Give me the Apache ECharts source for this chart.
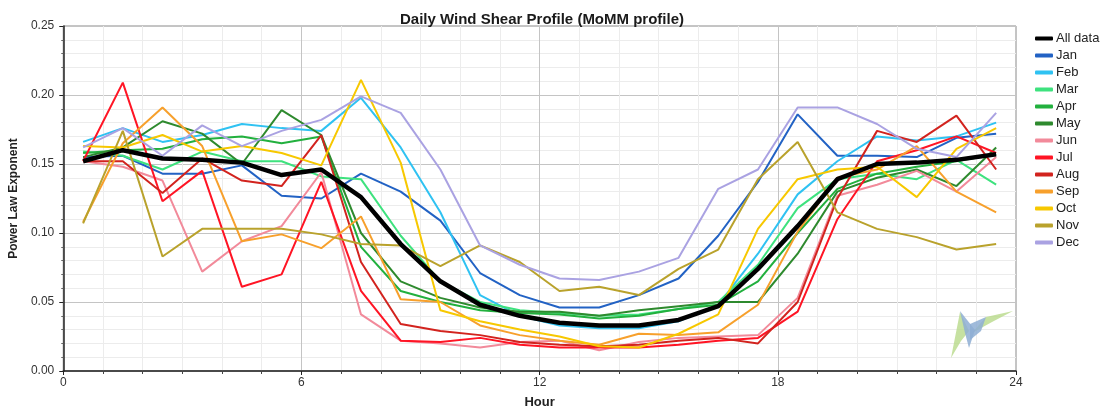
<!DOCTYPE html>
<html>
<head>
<meta charset="utf-8">
<script src="https://cdn.jsdelivr.net/npm/echarts@6/dist/echarts.min.js"></script>
<style>
  html, body { margin: 0; padding: 0; background: #fff; }
  #chart { width: 1109px; height: 414px; }
</style>
</head>
<body>
<div id="chart"></div>
<script>
// Hour of day for each profile point (hourly bins, plotted at mid-hour)
const hours = [0.5, 1.5, 2.5, 3.5, 4.5, 5.5, 6.5, 7.5, 8.5, 9.5, 10.5, 11.5,
               12.5, 13.5, 14.5, 15.5, 16.5, 17.5, 18.5, 19.5, 20.5, 21.5, 22.5, 23.5];

// Mean power law exponent per hour
const allData = [0.152, 0.160, 0.154, 0.153, 0.151, 0.142, 0.146, 0.126, 0.092, 0.065, 0.048, 0.040,
                 0.035, 0.033, 0.033, 0.037, 0.047, 0.074, 0.105, 0.139, 0.150, 0.151, 0.153, 0.157];
const jan = [0.155, 0.156, 0.143, 0.143, 0.149, 0.127, 0.125, 0.143, 0.130, 0.109, 0.071, 0.055,
             0.046, 0.046, 0.055, 0.067, 0.098, 0.137, 0.186, 0.156, 0.156, 0.155, 0.169, 0.172];
const feb = [0.166, 0.176, 0.166, 0.171, 0.179, 0.176, 0.174, 0.198, 0.162, 0.115, 0.055, 0.040,
             0.033, 0.031, 0.031, 0.036, 0.048, 0.085, 0.128, 0.152, 0.170, 0.167, 0.170, 0.180];
const mar = [0.159, 0.156, 0.146, 0.159, 0.152, 0.152, 0.141, 0.139, 0.098, 0.065, 0.050, 0.044,
             0.042, 0.040, 0.041, 0.045, 0.050, 0.077, 0.118, 0.139, 0.143, 0.139, 0.153, 0.135];
const apr = [0.158, 0.160, 0.161, 0.168, 0.170, 0.165, 0.170, 0.090, 0.058, 0.050, 0.044, 0.042,
             0.041, 0.038, 0.040, 0.045, 0.048, 0.065, 0.100, 0.132, 0.143, 0.148, 0.152, 0.157];
const may = [0.155, 0.162, 0.181, 0.172, 0.150, 0.189, 0.171, 0.100, 0.065, 0.053, 0.046, 0.043,
             0.043, 0.040, 0.044, 0.047, 0.050, 0.050, 0.085, 0.130, 0.140, 0.146, 0.134, 0.162];
const jun = [0.152, 0.148, 0.138, 0.072, 0.094, 0.105, 0.144, 0.041, 0.022, 0.020, 0.017, 0.021,
             0.022, 0.015, 0.021, 0.024, 0.025, 0.026, 0.053, 0.127, 0.135, 0.145, 0.130, 0.155];
const jul = [0.152, 0.209, 0.123, 0.145, 0.061, 0.070, 0.137, 0.058, 0.022, 0.021, 0.024, 0.019,
             0.017, 0.017, 0.017, 0.019, 0.022, 0.024, 0.043, 0.110, 0.152, 0.160, 0.170, 0.158];
const aug = [0.152, 0.152, 0.129, 0.154, 0.138, 0.134, 0.171, 0.079, 0.034, 0.029, 0.026, 0.021,
             0.019, 0.018, 0.019, 0.022, 0.024, 0.020, 0.050, 0.125, 0.174, 0.166, 0.185, 0.146];
const sep = [0.108, 0.165, 0.191, 0.163, 0.094, 0.099, 0.089, 0.112, 0.052, 0.050, 0.033, 0.026,
             0.022, 0.019, 0.027, 0.026, 0.028, 0.048, 0.101, 0.140, 0.146, 0.163, 0.130, 0.115];
const oct = [0.163, 0.162, 0.171, 0.159, 0.163, 0.158, 0.149, 0.211, 0.151, 0.044, 0.036, 0.030,
             0.025, 0.018, 0.017, 0.027, 0.041, 0.103, 0.139, 0.146, 0.148, 0.126, 0.161, 0.176];
const nov = [0.107, 0.174, 0.083, 0.103, 0.103, 0.103, 0.099, 0.092, 0.091, 0.076, 0.091, 0.079,
             0.058, 0.061, 0.055, 0.074, 0.088, 0.139, 0.166, 0.115, 0.103, 0.097, 0.088, 0.092];
const dec = [0.162, 0.176, 0.156, 0.178, 0.163, 0.174, 0.182, 0.199, 0.187, 0.146, 0.091, 0.077,
             0.067, 0.066, 0.072, 0.082, 0.132, 0.146, 0.191, 0.191, 0.179, 0.161, 0.155, 0.187];

const seriesNames = ['All data', 'Jan', 'Feb', 'Mar', 'Apr', 'May', 'Jun',
                     'Jul', 'Aug', 'Sep', 'Oct', 'Nov', 'Dec'];
const seriesValues = [allData, jan, feb, mar, apr, may, jun, jul, aug, sep, oct, nov, dec];
const seriesColors = ['#000000', '#2262c4', '#2fc2f2', '#3ee27e', '#22b03e', '#2e8a2e', '#f28a9a',
                      '#ff1424', '#d2231e', '#f7a02c', '#f7c800', '#b9a22c', '#aaa2e2'];

const chart = echarts.init(document.getElementById('chart'), null, { renderer: 'canvas' });

const series = seriesNames.map((name, i) => ({
  name: name,
  type: 'line',
  data: hours.map((h, k) => [h, seriesValues[i][k]]),
  symbol: 'none',
  smooth: false,
  z: i === 0 ? 3 : 2,
  lineStyle: { color: seriesColors[i], width: i === 0 ? 4.5 : 2 },
  itemStyle: { color: seriesColors[i] },
  emphasis: { disabled: true }
}));
// draw the overall profile on top of the monthly lines
series.push(series.shift());

chart.setOption({
  animation: false,
  backgroundColor: '#ffffff',
  textStyle: { fontFamily: 'Liberation Sans, Arial, sans-serif' },
  title: {
    text: 'Daily Wind Shear Profile (MoMM profile)',
    left: 537,
    textAlign: 'center',
    top: 7,
    textStyle: { fontSize: 15, fontWeight: 'bold', color: '#1a1a1a',
                 fontFamily: 'Liberation Sans, Arial, sans-serif' }
  },
  legend: {
    orient: 'vertical',
    left: 1030,
    top: 27,
    itemWidth: 18,
    itemHeight: 4,
    itemGap: 4,
    icon: 'roundRect',
    data: seriesNames,
    textStyle: { fontSize: 13, color: '#222', lineHeight: 13, padding: [0, 0, 0, -2] },
    selectedMode: false
  },
  grid: {
    left: 62, right: 93, top: 26, bottom: 41,
    show: true, borderColor: '#8a8a8a', borderWidth: 1
  },
  xAxis: {
    type: 'value',
    min: 0, max: 24, interval: 6,
    name: 'Hour',
    nameLocation: 'middle',
    nameGap: 25,
    nameTextStyle: { fontSize: 13, fontWeight: 'bold', color: '#222' },
    axisLine: { show: true, lineStyle: { color: '#222', width: 1.5 } },
    axisTick: { show: true, length: 4, lineStyle: { color: '#222' } },
    minorTick: { show: true, splitNumber: 6, length: 3, lineStyle: { color: '#444' } },
    axisLabel: { fontSize: 12, color: '#333', margin: 6 },
    splitLine: { show: true, lineStyle: { color: '#c4c4c4', width: 1 } },
    minorSplitLine: { show: true, lineStyle: { color: '#ececec', width: 1 } }
  },
  yAxis: {
    type: 'value',
    min: 0, max: 0.25, interval: 0.05,
    name: 'Power Law Exponent',
    nameLocation: 'middle',
    nameGap: 38,
    nameTextStyle: { fontSize: 12, fontWeight: 'bold', color: '#222' },
    axisLine: { show: true, lineStyle: { color: '#222', width: 1.5 } },
    axisTick: { show: true, length: 4, lineStyle: { color: '#222' } },
    minorTick: { show: true, splitNumber: 5, length: 2, lineStyle: { color: '#666' } },
    axisLabel: { fontSize: 12, color: '#333', margin: 9, formatter: v => v.toFixed(2) },
    splitLine: { show: true, lineStyle: { color: '#c4c4c4', width: 1 } },
    minorSplitLine: { show: true, lineStyle: { color: '#ececec', width: 1 } }
  },
  graphic: [
    // small corner logo
    { type: 'polygon', silent: true, z: 1,
      shape: { points: [[1013, 311], [986, 317], [972, 333], [992, 322]] },
      style: { fill: '#b8d98a', opacity: 0.8 } },
    { type: 'polygon', silent: true, z: 1,
      shape: { points: [[960, 312], [951, 358], [961, 341], [969, 331]] },
      style: { fill: '#b8d98a', opacity: 0.8 } },
    { type: 'polygon', silent: true, z: 1,
      shape: { points: [[960, 311], [965, 333], [969, 348], [975, 330]] },
      style: { fill: '#8eaed4', opacity: 0.85 } },
    { type: 'polygon', silent: true, z: 1,
      shape: { points: [[970, 324], [986, 317], [981, 331], [970, 340]] },
      style: { fill: '#8eaed4', opacity: 0.85 } }
  ],
  series: series
});
</script>
</body>
</html>
